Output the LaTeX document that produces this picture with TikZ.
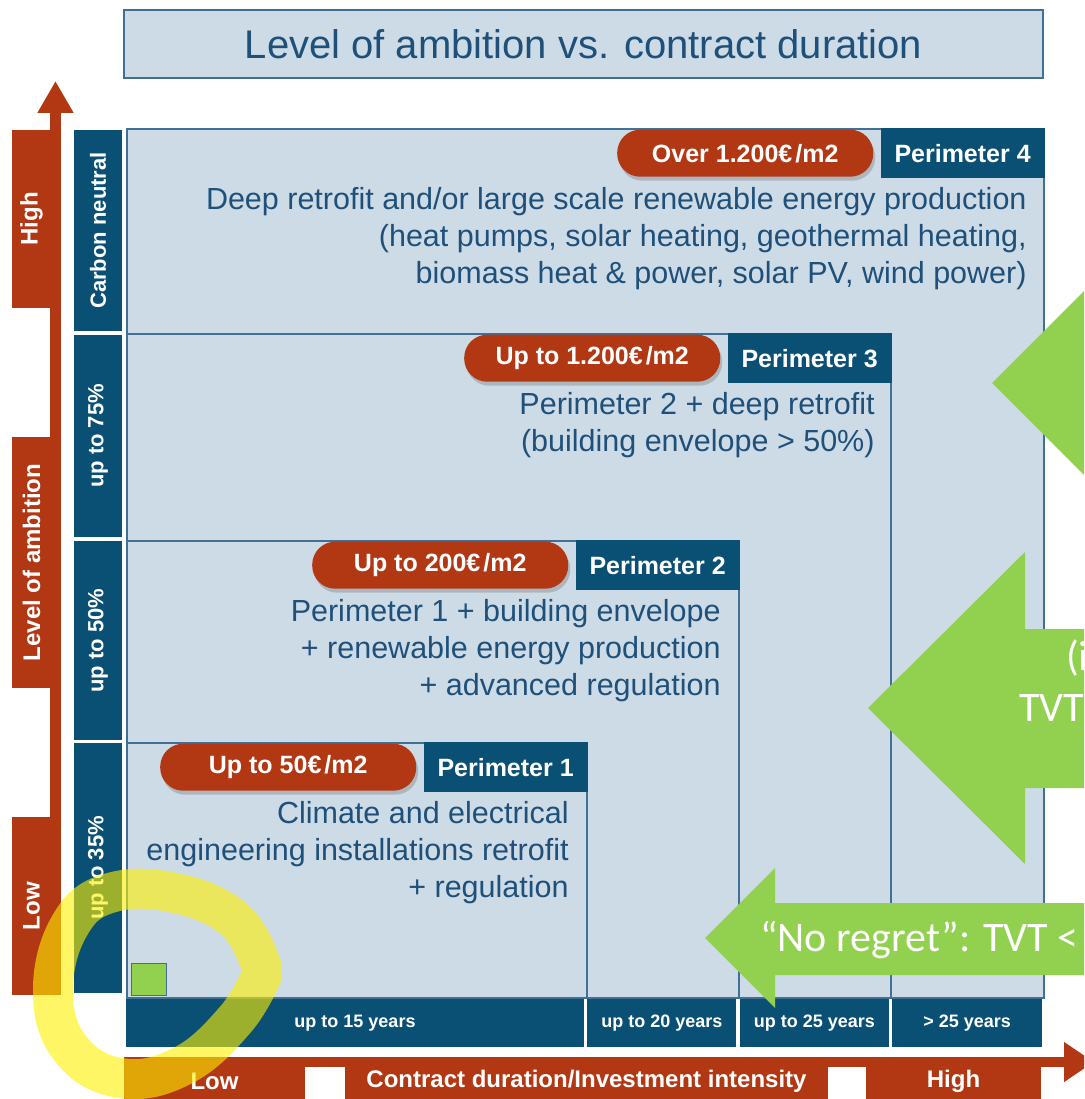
\documentclass[tikz,border=0pt]{standalone}
\usepackage{fontspec}
\setmainfont{Liberation Sans}
\newfontfamily\calibri{Carlito}
\usepackage{tikz}
\usetikzlibrary{positioning, arrows.meta, shadows}

\definecolor{darkb}{RGB}{10,80,117}
\definecolor{lightb}{RGB}{205,219,231}
\definecolor{edgeb}{RGB}{64,112,150}
\definecolor{txtb}{RGB}{30,80,122}
\definecolor{redc}{RGB}{178,56,20}
\definecolor{greenc}{RGB}{146,208,80}
\definecolor{yellowm}{RGB}{255,240,0}

\begin{document}
\begin{tikzpicture}[x=1pt, y=-1pt,
	region/.style={draw=edgeb, line width=1.8pt, fill=lightb, anchor=north west, inner sep=0pt},
	perim/.style={fill=darkb, text=white, font=\bfseries\fontsize{25}{28}\selectfont, minimum width=164pt, minimum height=50pt, inner sep=0pt, anchor=north east},
	cost/.style={fill=redc, text=white, font=\bfseries\fontsize{25}{28}\selectfont, rounded corners=23pt, minimum width=256pt, minimum height=47pt, inner sep=0pt, drop shadow={shadow xshift=2pt, shadow yshift=-4pt, opacity=0.4}},
	desc/.style={text=txtb, align=right, inner sep=0pt, font=\fontsize{30.5}{37}\selectfont},
	level/.style={fill=darkb, text=white, rotate=90, minimum height=48pt, inner sep=0pt, font=\bfseries\fontsize{22}{24}\selectfont},
	axislab/.style={fill=redc, text=white, inner sep=0pt, font=\bfseries\fontsize{24}{28}\selectfont},
	years/.style={fill=darkb, text=white, minimum height=48pt, inner sep=0pt, font=\bfseries\fontsize{18}{20}\selectfont},
	arrowtext/.style={text=white, inner sep=0pt, anchor=west, font=\calibri\fontsize{42}{46}\selectfont},
	highlight/.style={draw=yellowm, draw opacity=0.6, line width=40pt, line cap=round, line join=round}]
	
	\useasboundingbox (0,0) rectangle (1084,1099);
	\clip (0,0) rectangle (1084,1099);
	
	% Title
	\node[region, anchor=center, minimum width=919pt, minimum height=68pt, text=txtb, font=\fontsize{40}{44}\selectfont] (title) at (583.5,44) {Level of ambition vs. contract duration};
	
	% Define nodes
	\node[region, minimum width=917pt, minimum height=869pt] (p4box) at (126,128) {};
	\node[region, minimum width=764pt, minimum height=664pt] (p3box) at (126,333) {};
	\node[region, minimum width=612pt, minimum height=457pt] (p2box) at (126,540) {};
	\node[region, minimum width=460pt, minimum height=255pt] (p1box) at (126,742) {};
	
	\node[perim] (p4lab) at (p4box.north east) {Perimeter 4};
	\node[perim] (p3lab) at (p3box.north east) {Perimeter 3};
	\node[perim] (p2lab) at (p2box.north east) {Perimeter 2};
	\node[perim] (p1lab) at (p1box.north east) {Perimeter 1};
	
	\node[cost, left=7pt of p4lab] (p4cost) {Over 1.200€\kern3pt/m2};
	\node[cost, left=7pt of p3lab] (p3cost) {Up to 1.200€\kern3pt/m2};
	\node[cost, left=7pt of p2lab] (p2cost) {Up to 200€\kern3pt/m2};
	\node[cost, left=7pt of p1lab] (p1cost) {Up to 50€\kern3pt/m2};
	
	\node[desc, below left=9pt and 18pt of p4lab.south east] (p4text) {Deep retrofit and/or large scale renewable energy production\\(heat pumps, solar heating, geothermal heating,\\biomass heat \& power, solar PV, wind power)};
	\node[desc, below left=9pt and 17pt of p3lab.south east] (p3text) {Perimeter 2 + deep retrofit\\(building envelope > 50\%)};
	\node[desc, below left=9pt and 19pt of p2lab.south east] (p2text) {Perimeter 1 + building envelope\\+ renewable energy production\\+ advanced regulation};
	\node[desc, below left=9pt and 19pt of p1lab.south east] (p1text) {Climate and electrical\\engineering installations retrofit\\+ regulation};
	
	\node[draw=edgeb, fill=greenc, line width=1pt, minimum width=35pt, minimum height=32pt, inner sep=0pt, anchor=north west] (marker) at (131,963) {};
	
	% Ambition levels
	\node[level, minimum width=201pt] (lvl4) at (98,230.5) {Carbon neutral};
	\node[level, minimum width=202pt] (lvl3) at (98,436) {up to 75\%};
	\node[level, minimum width=199pt] (lvl2) at (98,640.5) {up to 50\%};
	\node[level, minimum width=250pt] (lvl1) at (98,868) {up to 35\%};
	
	% Contract durations
	\node[years, minimum width=458pt] (y15) at (355,1023) {up to 15 years};
	\node[years, minimum width=149pt, right=3pt of y15] (y20) {up to 20 years};
	\node[years, minimum width=149pt, right=3pt of y20] (y25) {up to 25 years};
	\node[years, minimum width=150pt, right=3pt of y25] (y30) {> 25 years};
	
	% Axes
	\draw[redc, line width=11pt, -{Triangle[width=34pt, length=32pt]}] (55.5,995) -- (55.5,81);
	\draw[redc, line width=10pt, -{Triangle[width=38pt, length=30pt]}] (124,1062) -- (1094,1062);
	
	\node[axislab, rotate=90, minimum width=178pt, minimum height=39pt] (high) at (31.5,219) {High};
	\node[axislab, rotate=90, minimum width=251pt, minimum height=39pt] (ambition) at (31.5,562.5) {Level of ambition};
	\node[axislab, rotate=90, minimum width=178pt, minimum height=39pt] (low) at (31.5,906) {Low};
	
	\node[axislab, minimum width=181pt, minimum height=48pt, anchor=north] (lowx) at (214.5,1057) {Low};
	\node[axislab, minimum width=483pt, minimum height=48pt, anchor=north] (duration) at (586.5,1057) {Contract duration/Investment intensity};
	\node[axislab, minimum width=175pt, minimum height=48pt, anchor=north] (highx) at (953.5,1057) {High};
	
	% Green arrows
	\fill[greenc] (992,383) -- (1100,275) -- (1100,491) -- cycle;
	\fill[greenc] (868,708) -- (1025,552) -- (1025,629) -- (1100,629) -- (1100,788) -- (1025,788) -- (1025,864) -- cycle;
	\fill[greenc] (705,938) -- (775,868) -- (775,903) -- (1100,903) -- (1100,975) -- (775,975) -- (775,1008) -- cycle;
	
	\node[arrowtext] (tvt1) at (1066,658) {(i};
	\node[arrowtext] (tvt2) at (1019,708) {TVT};
	\node[arrowtext] (regret) at (760,940) {“No regret”: TVT <};
	
	% Highlighter
	\draw[highlight] plot[smooth, tension=0.7] coordinates {(262,968) (235,920) (175,893) (110,893) (70,925) (53,990) (70,1048) (120,1078) (182,1066) (235,1020) (262,975)};
	
\end{tikzpicture}
\end{document}
